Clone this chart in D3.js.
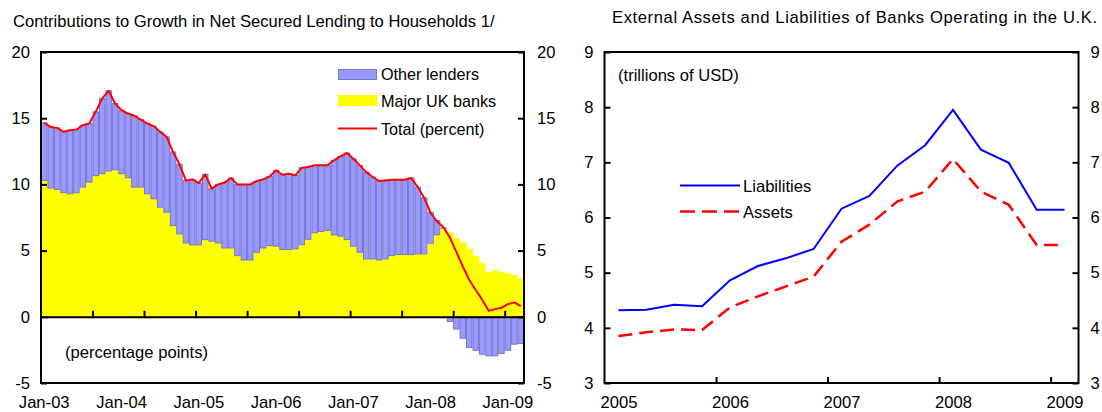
<!DOCTYPE html>
<html><head><meta charset="utf-8">
<script src="https://cdn.jsdelivr.net/npm/d3@7"></script>
<style>
body{margin:0;background:#fff;}
svg{display:block;font-family:"Liberation Sans",Arial,sans-serif;}
</style></head>
<body><svg id="c" width="1102" height="412"></svg>
<script>
// ---------- Left chart data (monthly, Jan-03 .. Mar-09) ----------
const monthNames = ["Jan","Feb","Mar","Apr","May","Jun","Jul","Aug","Sep","Oct","Nov","Dec"];
const months = d3.range(75).map(i => monthNames[i % 12] + "-" + String(3 + Math.floor(i / 12)).padStart(2, "0"));
const majorUK = [10.30,9.72,9.62,9.39,9.29,9.37,9.80,10.18,10.66,10.81,11.01,11.11,
  10.81,10.51,9.80,9.80,9.29,8.91,8.28,7.90,6.89,6.26,5.58,5.43,
  5.43,5.83,5.71,5.58,5.20,5.20,4.62,4.29,4.29,4.87,5.20,5.38,
  5.33,5.08,5.08,5.13,5.45,5.86,6.34,6.44,6.52,6.19,6.09,5.83,
  5.33,4.87,4.37,4.37,4.29,4.37,4.62,4.70,4.70,4.70,4.75,4.75,
  5.56,6.19,6.69,6.39,5.96,5.63,5.13,4.60,4.04,3.36,3.54,3.41,
  3.28,3.16,2.90];
const otherLenders = [4.35,4.62,4.65,4.58,4.80,4.77,4.67,4.42,4.82,5.68,6.06,5.00,
  4.79,4.84,5.38,5.10,5.31,5.48,5.69,5.69,5.56,5.26,4.72,4.95,
  4.67,4.93,3.96,4.42,4.93,5.28,5.38,5.71,5.71,5.38,5.18,5.22,
  5.73,5.65,5.73,5.55,5.81,5.45,5.10,5.00,4.92,5.63,6.03,6.54,
  6.61,6.57,6.56,6.19,5.96,5.93,5.73,5.65,5.65,5.78,5.05,4.24,
  2.34,1.08,0.02,-0.35,-0.93,-1.62,-2.32,-2.53,-2.83,-2.95,-2.95,-2.78,
  -2.53,-2.07,-2.02];
const totalPct = [14.65,14.34,14.27,13.97,14.09,14.14,14.47,14.60,15.48,16.49,17.07,16.11,
  15.60,15.35,15.18,14.90,14.60,14.39,13.97,13.59,12.45,11.52,10.30,10.38,
  10.10,10.76,9.67,10.00,10.13,10.48,10.00,10.00,10.00,10.25,10.38,10.60,
  11.06,10.73,10.81,10.68,11.26,11.31,11.44,11.44,11.44,11.82,12.12,12.37,
  11.94,11.44,10.93,10.56,10.25,10.30,10.35,10.35,10.35,10.48,9.80,8.99,
  7.84,7.20,6.77,5.98,4.90,3.80,2.78,2.03,1.30,0.45,0.58,0.68,
  0.95,1.09,0.80];
const leftYTicks = [-5,0,5,10,15,20];
const leftXLabels = ["Jan-03","Jan-04","Jan-05","Jan-06","Jan-07","Jan-08","Jan-09"];

// ---------- Right chart data (quarterly, 2005Q1 .. 2009Q1) ----------
const quarters = d3.range(17).map(i => 2005 + 0.125 + 0.25 * i);
const liabilities = [4.32,4.33,4.42,4.39,4.86,5.12,5.26,5.43,6.16,6.39,6.94,7.31,7.95,7.23,6.99,6.14,6.14];
const assets = [3.85,3.92,3.97,3.96,4.37,4.57,4.75,4.93,5.56,5.87,6.29,6.47,7.06,6.47,6.23,5.50,5.50];
const rightYTicks = [3,4,5,6,7,8,9];
const rightXTicks = [2006,2007,2008,2009];
const rightXLabels = ["2005","2006","2007","2008","2009"];

const svg = d3.select("#c");
const FS = 16.6;
const fmt = d => String(d);

// ================= LEFT CHART =================
const L = {x0: 41, x1: 524, y0: 52, y1: 383};
const xb = d3.scaleBand().domain(months).range([L.x0, L.x1]).padding(0);
const yl = d3.scaleLinear().domain([-5, 20]).range([L.y1, L.y0]);
const xi = d3.scaleLinear().domain([0, 75]).range([L.x0, L.x1]);

const rows = months.map((m, i) => ({m, major: majorUK[i], other: otherLenders[i]}));
const stacked = d3.stack().keys(["major", "other"]).offset(d3.stackOffsetDiverging)(rows);
const gL = svg.append("g");

gL.append("g").selectAll("rect").data(stacked[0]).join("rect")
  .attr("x", d => xb(d.data.m)).attr("width", xb.bandwidth() + 0.4)
  .attr("y", d => yl(Math.max(d[0], d[1]))).attr("height", d => Math.abs(yl(d[0]) - yl(d[1])))
  .attr("fill", "#ffff00");
gL.append("g").selectAll("rect").data(stacked[1]).join("rect")
  .attr("x", d => xb(d.data.m) + 0.5).attr("width", xb.bandwidth() - 1)
  .attr("y", d => yl(Math.max(d[0], d[1]))).attr("height", d => Math.abs(yl(d[0]) - yl(d[1])))
  .attr("fill", "#9999ff").attr("stroke", "#7777cc").attr("stroke-width", 1);

gL.append("path").datum(totalPct)
  .attr("fill", "none").attr("stroke", "#ff0000").attr("stroke-width", 2)
  .attr("stroke-linejoin", "round")
  .attr("d", d3.line().x((d, i) => xb(months[i]) + xb.bandwidth() / 2).y(d => yl(d)));

// zero line with upward ticks every 8 months
const zeroAx = gL.append("g").attr("transform", `translate(0,${yl(0)})`)
  .call(d3.axisTop(xi).tickValues(d3.range(8, 75, 8)).tickSize(6).tickSizeOuter(0).tickFormat(""));
zeroAx.selectAll("path,line").attr("stroke", "#000").attr("stroke-width", 2);

// x labels
const xlab = gL.append("g").attr("transform", `translate(0,${L.y1})`)
  .call(d3.axisBottom(xb).tickValues(leftXLabels).tickSize(0).tickPadding(13));
xlab.select(".domain").remove();
xlab.selectAll("text").attr("font-size", FS).attr("font-family", null).attr("fill", "#000");

// y axes
const yla = gL.append("g").attr("transform", `translate(${L.x0},0)`)
  .call(d3.axisLeft(yl).tickValues(leftYTicks).tickSize(-6).tickSizeOuter(0).tickPadding(11).tickFormat(fmt));
const yra = gL.append("g").attr("transform", `translate(${L.x1},0)`)
  .call(d3.axisRight(yl).tickValues(leftYTicks).tickSize(-6).tickSizeOuter(0).tickPadding(13).tickFormat(fmt));
[yla, yra].forEach(a => {
  a.select(".domain").remove();
  a.selectAll("line").attr("stroke", "#000").attr("stroke-width", 2);
  a.selectAll("text").attr("font-size", FS).attr("font-family", null).attr("fill", "#000");
});
gL.append("rect").attr("x", L.x0).attr("y", L.y0).attr("width", L.x1 - L.x0).attr("height", L.y1 - L.y0)
  .attr("fill", "none").attr("stroke", "#000").attr("stroke-width", 2);

gL.append("text").attr("x", 13).attr("y", 27).attr("font-size", 16.6).text("Contributions to Growth in Net Secured Lending to Households 1/");
gL.append("text").attr("x", 65).attr("y", 358).attr("font-size", FS).text("(percentage points)");

// legend
const lg = gL.append("g").attr("font-size", 16.2);
lg.append("rect").attr("x", 338.5).attr("y", 69.5).attr("width", 38).attr("height", 10).attr("fill", "#9999ff").attr("stroke", "#7777cc");
lg.append("text").attr("x", 381).attr("y", 80).text("Other lenders");
lg.append("rect").attr("x", 338).attr("y", 95).attr("width", 39).attr("height", 11).attr("fill", "#ffff00");
lg.append("text").attr("x", 381).attr("y", 107).text("Major UK banks");
lg.append("line").attr("x1", 338).attr("x2", 377).attr("y1", 128.5).attr("y2", 128.5).attr("stroke", "#ff0000").attr("stroke-width", 2);
lg.append("text").attr("x", 381).attr("y", 134.5).text("Total (percent)");

// ================= RIGHT CHART =================
const R = {x0: 604.5, x1: 1078.5, y0: 52, y1: 383};
const xr = d3.scaleLinear().domain([2005, 2009.25]).range([R.x0, R.x1]);
const yr = d3.scaleLinear().domain([3, 9]).range([R.y1, R.y0]);
const gR = svg.append("g");

gR.append("path").datum(liabilities).attr("fill", "none").attr("stroke", "#0000ff").attr("stroke-width", 2)
  .attr("d", d3.line().x((d, i) => xr(quarters[i])).y(d => yr(d)));
gR.append("path").datum(assets).attr("fill", "none").attr("stroke", "#ff0000").attr("stroke-width", 2.5)
  .attr("stroke-dasharray", "14,7")
  .attr("d", d3.line().x((d, i) => xr(quarters[i])).y(d => yr(d)));

const xra = gR.append("g").attr("transform", `translate(0,${R.y1})`)
  .call(d3.axisTop(xr).tickValues(rightXTicks).tickSize(6).tickSizeOuter(0).tickFormat(""));
xra.select(".domain").remove();
xra.selectAll("line").attr("stroke", "#000").attr("stroke-width", 2);
const xrl = gR.append("g").attr("transform", `translate(0,${R.y1})`)
  .call(d3.axisBottom(xr).tickValues(rightXLabels.map((s, i) => quarters[i * 4])).tickSize(0).tickPadding(13)
    .tickFormat((d, i) => rightXLabels[i]));
xrl.select(".domain").remove();
xrl.selectAll("text").attr("font-size", FS).attr("font-family", null).attr("fill", "#000");

const ryl = gR.append("g").attr("transform", `translate(${R.x0},0)`)
  .call(d3.axisLeft(yr).tickValues(rightYTicks).tickSize(-6).tickSizeOuter(0).tickPadding(11).tickFormat(fmt));
const ryr = gR.append("g").attr("transform", `translate(${R.x1},0)`)
  .call(d3.axisRight(yr).tickValues(rightYTicks).tickSize(-6).tickSizeOuter(0).tickPadding(12).tickFormat(fmt));
[ryl, ryr].forEach(a => {
  a.select(".domain").remove();
  a.selectAll("line").attr("stroke", "#000").attr("stroke-width", 2);
  a.selectAll("text").attr("font-size", FS).attr("font-family", null).attr("fill", "#000");
});
gR.append("rect").attr("x", R.x0).attr("y", R.y0).attr("width", R.x1 - R.x0).attr("height", R.y1 - R.y0)
  .attr("fill", "none").attr("stroke", "#000").attr("stroke-width", 2);

gR.append("text").attr("x", 612).attr("y", 23).attr("font-size", 16.6)
  .attr("textLength", 485).attr("lengthAdjust", "spacing")
  .text("External Assets and Liabilities of Banks Operating in the U.K.");
gR.append("text").attr("x", 618).attr("y", 81).attr("font-size", FS).text("(trillions of USD)");

const lr = gR.append("g").attr("font-size", FS);
lr.append("line").attr("x1", 680).attr("x2", 740).attr("y1", 185.5).attr("y2", 185.5).attr("stroke", "#0000ff").attr("stroke-width", 2);
lr.append("text").attr("x", 743).attr("y", 191.5).text("Liabilities");
lr.append("line").attr("x1", 680).attr("x2", 740).attr("y1", 211.5).attr("y2", 211.5).attr("stroke", "#ff0000").attr("stroke-width", 2.5).attr("stroke-dasharray", "15,7");
lr.append("text").attr("x", 743).attr("y", 217.5).text("Assets");
</script></body></html>
